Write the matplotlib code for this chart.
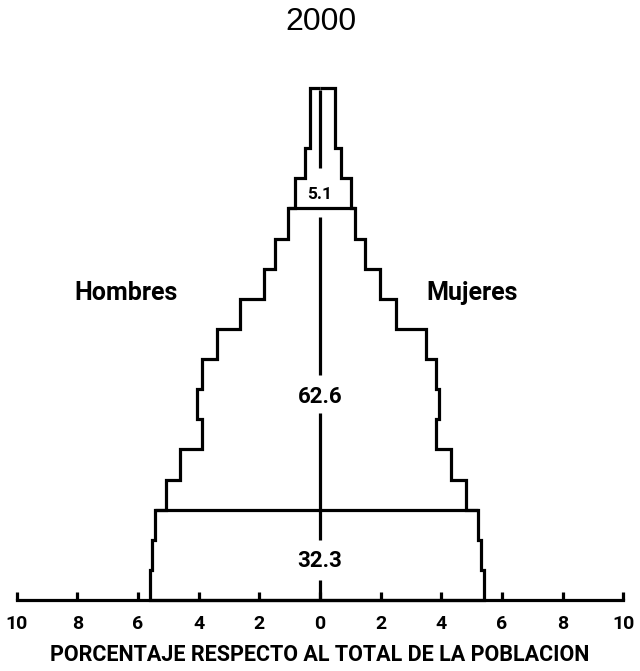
import numpy as np
import matplotlib
matplotlib.use("Agg")
import matplotlib.pyplot as plt

# Piramide de poblacion 2000, porcentaje por grupo quinquenal de edad
grupos = ["0-4", "5-9", "10-14", "15-19", "20-24", "25-29", "30-34", "35-39",
          "40-44", "45-49", "50-54", "55-59", "60-64", "65-69", "70-74", "75-79", "80+"]
hombres = [5.61, 5.53, 5.45, 5.07, 4.63, 3.89, 4.06, 3.89, 3.38, 2.65,
           1.84, 1.48, 1.06, 0.84, 0.48, 0.34, 0.34]
mujeres = [5.41, 5.31, 5.21, 4.80, 4.31, 3.81, 3.92, 3.81, 3.51, 2.52,
           1.97, 1.50, 1.17, 1.01, 0.70, 0.48, 0.48]

# grandes grupos de edad: 0-14, 15-64, 65+ (limites en indice de grupo)
cortes = [3, 13]
totales = ["32.3", "62.6", "5.1"]

ticks = [-10, -8, -6, -4, -2, 0, 2, 4, 6, 8, 10]
tick_labels = ["10", "8", "6", "4", "2", "0", "2", "4", "6", "8", "10"]

NARROW = ["Roboto", "DejaVu Sans"]
lw = 2.3

fig = plt.figure(figsize=(6.4, 6.71), dpi=100)
ax = fig.add_axes([16.7 / 640, 71 / 671, 606.6 / 640, 512 / 671])

h = np.array(hombres)
m = np.array(mujeres)
edges = np.arange(len(grupos) + 1)

ax.stairs(-h, edges, orientation="horizontal", baseline=0, color="black", lw=lw, clip_on=False)
ax.stairs(m, edges, orientation="horizontal", baseline=0, color="black", lw=lw, clip_on=False)

for c in cortes:
    ax.hlines(c, -max(h[c - 1], h[c]), max(m[c - 1], m[c]), color="black", lw=lw)

# linea central, interrumpida por los totales
for y0, y1 in [(0, 0.66), (1.99, 6.21), (7.47, 12.73), (14.35, 16.94)]:
    ax.vlines(0, y0, y1, color="black", lw=lw, clip_on=False)

for y, t, fs in zip([1.3, 6.74, 13.45], totales, [16, 16, 12.5]):
    ax.text(0, y, t, ha="center", va="center", fontsize=fs, fontweight="bold", family=NARROW)

ax.text(-6.4, 10.2, "Hombres", ha="center", va="center", fontsize=18, fontweight="bold", family=NARROW)
ax.text(5.0, 10.2, "Mujeres", ha="center", va="center", fontsize=18, fontweight="bold", family=NARROW)

ax.set_xlim(-10, 10)
ax.set_ylim(0, 17)
for s in ["top", "left", "right"]:
    ax.spines[s].set_visible(False)
ax.spines["bottom"].set_linewidth(lw)
ax.set_yticks([])
ax.set_xticks(ticks)
ax.set_xticklabels(tick_labels, fontsize=14, fontweight="bold", family=NARROW)
ax.tick_params(axis="x", direction="in", length=6, width=lw, pad=10.5)
ax.set_xlabel("PORCENTAJE RESPECTO AL TOTAL DE LA POBLACION", fontsize=15.5,
              fontweight="bold", family=NARROW, labelpad=8)

fig.text(321 / 640, 1 - 21.5 / 671, "2000", ha="center", va="center",
         fontsize=23, family=["Liberation Sans", "DejaVu Sans"])

fig.savefig("out.png", dpi=100)
